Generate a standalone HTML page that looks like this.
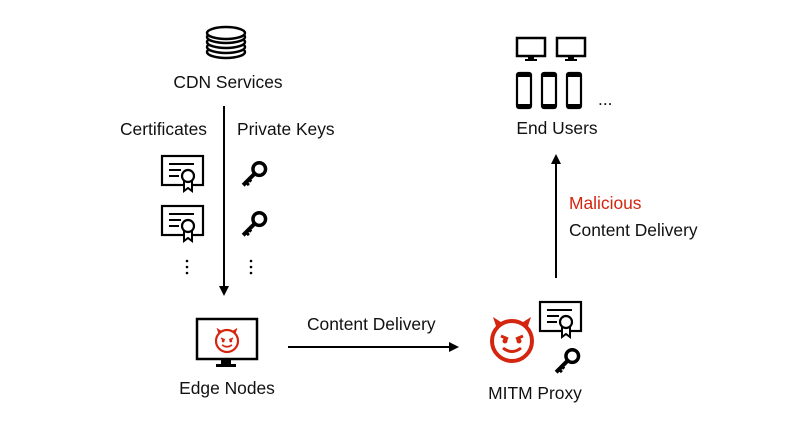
<!DOCTYPE html>
<html><head><style>
body{margin:0;background:#fff;}
svg text{font-family:"Liberation Sans",sans-serif;font-size:17.4px;fill:#111;}
</style></head><body>
<svg width="800" height="427" viewBox="0 0 800 427" xmlns="http://www.w3.org/2000/svg">
<defs>
<marker id="ah" markerWidth="10" markerHeight="10" refX="8" refY="5" orient="auto" markerUnits="userSpaceOnUse">
<path d="M0,0 L10,5 L0,10 Z" fill="#000"/></marker>
<g id="cert">
<rect x="1" y="1" width="41" height="29" fill="#fff" stroke="#000" stroke-width="2.2"/>
<line x1="8" y1="9" x2="33" y2="9" stroke="#000" stroke-width="2"/>
<line x1="8" y1="15" x2="20" y2="15" stroke="#000" stroke-width="2"/>
<line x1="8" y1="21" x2="18" y2="21" stroke="#000" stroke-width="2"/>
<path d="M23,26 L23,36 L27,33 L31,36 L31,26" fill="#fff" stroke="#000" stroke-width="2"/>
<circle cx="27" cy="21" r="6" fill="#fff" stroke="#000" stroke-width="2.2"/>
</g>
<g id="key">
<circle cx="15" cy="7" r="5.5" fill="none" stroke="#000" stroke-width="3"/>
<path d="M11,11 L1,21" stroke="#000" stroke-width="3.5"/>
<path d="M3,18 L6,21 M5,15 L8,18" stroke="#000" stroke-width="2.5"/>
</g>
<g id="devil">
<circle cx="0" cy="0" r="20" fill="none" stroke="#d4250f" stroke-width="4"/>
<path d="M-15,-12 L-19,-24 L-8,-17 Z M15,-12 L19,-24 L8,-17 Z" fill="#d4250f"/>
<path d="M-11,-5 L-4,-2 M11,-5 L4,-2" stroke="#d4250f" stroke-width="3"/>
<circle cx="-7" cy="0" r="2.5" fill="#d4250f"/><circle cx="7" cy="0" r="2.5" fill="#d4250f"/>
<path d="M-9,7 Q0,14 9,7" fill="none" stroke="#d4250f" stroke-width="3"/>
</g>
<g id="mon">
<rect x="1" y="1" width="28" height="18" fill="none" stroke="#000" stroke-width="2.5"/>
<rect x="12" y="19" width="6" height="3" fill="#000"/><rect x="9" y="22" width="12" height="2" fill="#000"/>
</g>
<g id="ph">
<rect x="1" y="1" width="14" height="35" rx="2" fill="none" stroke="#000" stroke-width="2.2"/>
<rect x="1" y="1" width="14" height="4" fill="#000"/><rect x="1" y="32" width="14" height="4" fill="#000"/>
</g>
</defs>

<g fill="#fff" stroke="#000" stroke-width="2.5">
<ellipse cx="226" cy="52" rx="19" ry="6"/>
<ellipse cx="226" cy="47" rx="19" ry="6"/>
<ellipse cx="226" cy="42" rx="19" ry="6"/>
<ellipse cx="226" cy="37" rx="19" ry="6"/>
<ellipse cx="226" cy="33" rx="19" ry="6"/>
</g>
<text x="228" y="88" text-anchor="middle">CDN Services</text>
<line x1="224" y1="106" x2="224" y2="294" stroke="#000" stroke-width="2" marker-end="url(#ah)"/>
<text x="120" y="135">Certificates</text>
<text x="237" y="135">Private Keys</text>
<use href="#cert" x="161" y="155"/>
<use href="#cert" x="161" y="205"/>
<g transform="translate(242,161) scale(1.15)"><use href="#key"/></g>
<g transform="translate(242,211) scale(1.15)"><use href="#key"/></g>
<g fill="#000"><circle cx="187" cy="261" r="1.3"/><circle cx="187" cy="267" r="1.3"/><circle cx="187" cy="273" r="1.3"/>
<circle cx="251" cy="261" r="1.3"/><circle cx="251" cy="267" r="1.3"/><circle cx="251" cy="273" r="1.3"/></g>

<rect x="197" y="319" width="60" height="40" fill="none" stroke="#000" stroke-width="2.5"/>
<rect x="221" y="359" width="10" height="5" fill="#000"/><rect x="216" y="364" width="20" height="3" fill="#000"/>
<g transform="translate(227,341) scale(0.55)"><use href="#devil"/></g>
<text x="227" y="394" text-anchor="middle">Edge Nodes</text>

<text x="307" y="330">Content Delivery</text>
<line x1="288" y1="347" x2="457" y2="347" stroke="#000" stroke-width="2" marker-end="url(#ah)"/>

<use href="#devil" x="512" y="341"/>
<use href="#cert" x="539" y="301"/>
<g transform="translate(555,348) scale(1.15)"><use href="#key"/></g>
<text x="535" y="399" text-anchor="middle">MITM Proxy</text>

<line x1="556" y1="278" x2="556" y2="156" stroke="#000" stroke-width="2" marker-end="url(#ah)"/>
<text x="569" y="209" style="fill:#d4250f">Malicious</text>
<text x="569" y="236">Content Delivery</text>

<use href="#mon" x="516" y="37"/>
<use href="#mon" x="556" y="37"/>
<use href="#ph" x="516" y="72"/>
<use href="#ph" x="541" y="72"/>
<use href="#ph" x="566" y="72"/>
<text x="598" y="105">...</text>
<text x="557" y="134" text-anchor="middle">End Users</text>
</svg>
</body></html>
